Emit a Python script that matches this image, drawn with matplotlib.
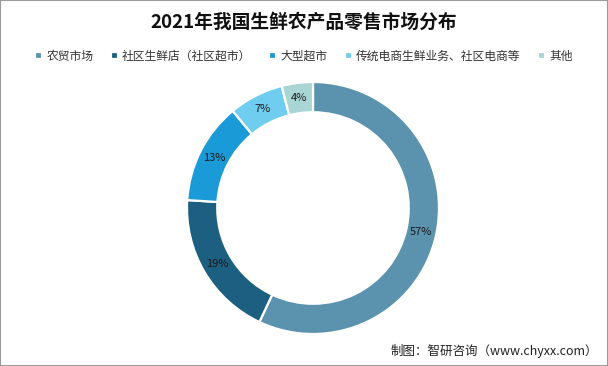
import matplotlib.pyplot as plt
from matplotlib.patches import Rectangle
import numpy as np

plt.rcParams['font.family'] = ['Noto Sans CJK SC', 'DejaVu Sans']

labels = ['农贸市场', '社区生鲜店（社区超市）', '大型超市', '传统电商生鲜业务、社区电商等', '其他']
shares = [57, 19, 13, 7, 4]
colors = ['#5b93ae', '#1c5f80', '#1a9ad6', '#6fcdef', '#a9d5d4']

fig = plt.figure(figsize=(6.08, 3.66), dpi=100)
fig.patches.append(Rectangle((0, 0), 1, 1, transform=fig.transFigure,
                             fill=False, edgecolor='#9a9a9a', linewidth=1.5))

# donut
ax = fig.add_axes([313/608 - 126/608, 1 - (208 + 126)/366, 252/608, 252/366])
wedges, _ = ax.pie(shares, colors=colors, startangle=90, counterclock=False,
                   radius=1.0, wedgeprops=dict(width=0.24, edgecolor='white', linewidth=1.6))
ax.set_xlim(-1, 1)
ax.set_ylim(-1, 1)
ax.set_aspect('equal')
ax.axis('off')

for s, w in zip(shares, wedges):
    mid = np.deg2rad((w.theta1 + w.theta2) / 2)
    r = 0.88
    ax.text(r*np.cos(mid), r*np.sin(mid), f'{s}%', ha='center', va='center',
            fontsize=8, color='#1a1a1a')

fig.text(0.5, 1 - 22/366, '2021年我国生鲜农产品零售市场分布', ha='center', va='center',
         fontsize=13.5, fontweight='bold', color='#111111')

leg = fig.legend(wedges, labels, loc='center', bbox_to_anchor=(0.5, 1 - 56/366),
                 ncol=5, frameon=False, fontsize=8.5, handlelength=0.6, handleheight=0.6,
                 columnspacing=1.5, handletextpad=0.35)
for t in leg.get_texts():
    t.set_color('#333333')

fig.text(598/608, 1 - 351/366, '制图：智研咨询（www.chyxx.com）', ha='right', va='center',
         fontsize=9, color='#222222')

fig.savefig('out.png', dpi=100)
